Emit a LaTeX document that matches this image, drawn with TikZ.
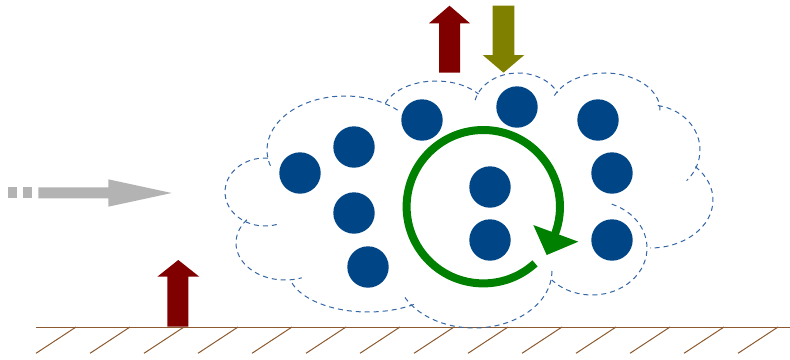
\documentclass[tikz,border=0pt]{standalone}
\definecolor{cloudblue}{HTML}{3465A4}
\definecolor{partblue}{HTML}{004586}
\definecolor{heatred}{HTML}{800000}
\definecolor{oliveflux}{HTML}{808000}
\definecolor{windgray}{HTML}{B3B3B3}
\definecolor{spingreen}{HTML}{008000}
\definecolor{soil}{HTML}{8C5A2E}
\begin{document}
\begin{tikzpicture}[x=1pt,y=1pt,yscale=-1,
  puff/.style={draw=cloudblue, line width=1pt, dash pattern=on 5pt off 4pt},
  particle/.style={circle, fill=partblue, minimum size=41.4pt, inner sep=0pt},
  soilline/.style={draw=soil, line width=1pt},
  uprise/.style={fill=heatred},
  downfall/.style={fill=oliveflux},
  wind/.style={fill=windgray},
  spin/.style={draw=spingreen, line width=8pt, line cap=butt}]
\useasboundingbox (0,0) rectangle (790,359);

% ground surface with hatching
\draw[soilline] (36,327) -- (790,327);
\foreach \i in {0,...,13}
  \draw[soilline] ({36+54*\i},353.3) -- ({76+54*\i},327);

% cloud outline: overlapping dashed elliptical puffs
% centre x / centre y / x radius / y radius / start / end
\foreach \cx/\cy/\rx/\ry/\sa/\ea in {
  345/150/78/54/163/314,
  436/115/54/34/200/322,
  518/108/44/35/193/334,
  605/110/55/37/203/363,
  650/150/50/45/279/403,
  650/200/63/48/316/450,
  592/248/55/47/291/497,
  474/271/78/57/0/155,
  368/270/80/42/55/166,
  285/243/49/37/219/70,
  265/192/40/34/274/72}
  \draw[puff] (\cx,\cy) ++({\rx*cos(\sa)},{\ry*sin(\sa)})
    arc[start angle=\sa, end angle=\ea, x radius=\rx, y radius=\ry];

% particles
\node[particle] (m1)  at (300,173) {};
\node[particle] (m2)  at (354,147) {};
\node[particle] (m3)  at (354,213) {};
\node[particle] (m4)  at (368,267) {};
\node[particle] (m5)  at (422,120) {};
\node[particle] (m6)  at (517,107) {};
\node[particle] (m7)  at (490,187) {};
\node[particle] (m8)  at (490,240) {};
\node[particle] (m9)  at (598,120) {};
\node[particle] (m10) at (612,173) {};
\node[particle] (m11) at (612,240) {};

% circulation inside the cloud
\draw[spin] (483.3,206.7) ++({76.7*cos(47.6)},{76.7*sin(47.6)})
  arc[start angle=47.6, end angle=382, radius=76.7];
\fill[spingreen] (533.3,225) -- (578.3,241.7) -- (546.7,255) -- cycle;

% incoming horizontal flow
\fill[wind] (8.3,187.3) rectangle (16.7,198.3);
\fill[wind] (23.3,187.3) rectangle (31.7,198.3);
\fill[wind] (38.3,187.3) -- (108.3,187.3) -- (108.3,179.3) -- (171.7,193)
  -- (108.3,206.7) -- (108.3,198.3) -- (38.3,198.3) -- cycle;

% upward flux from the surface
\fill[uprise] (167.3,326.7) -- (167.3,276.7) -- (157.3,276.7) -- (178.3,260)
  -- (199.3,276.7) -- (188.3,276.7) -- (188.3,326.7) -- cycle;

% fluxes at the cloud top
\fill[uprise] (439,72.7) -- (439,23.3) -- (429,23.3) -- (449.5,5.7)
  -- (470,23.3) -- (460,23.3) -- (460,72.7) -- cycle;
\fill[downfall] (492.7,5.7) -- (492.7,55) -- (482.7,55) -- (503.5,72.7)
  -- (524.3,55) -- (514.3,55) -- (514.3,5.7) -- cycle;
\end{tikzpicture}
\end{document}
